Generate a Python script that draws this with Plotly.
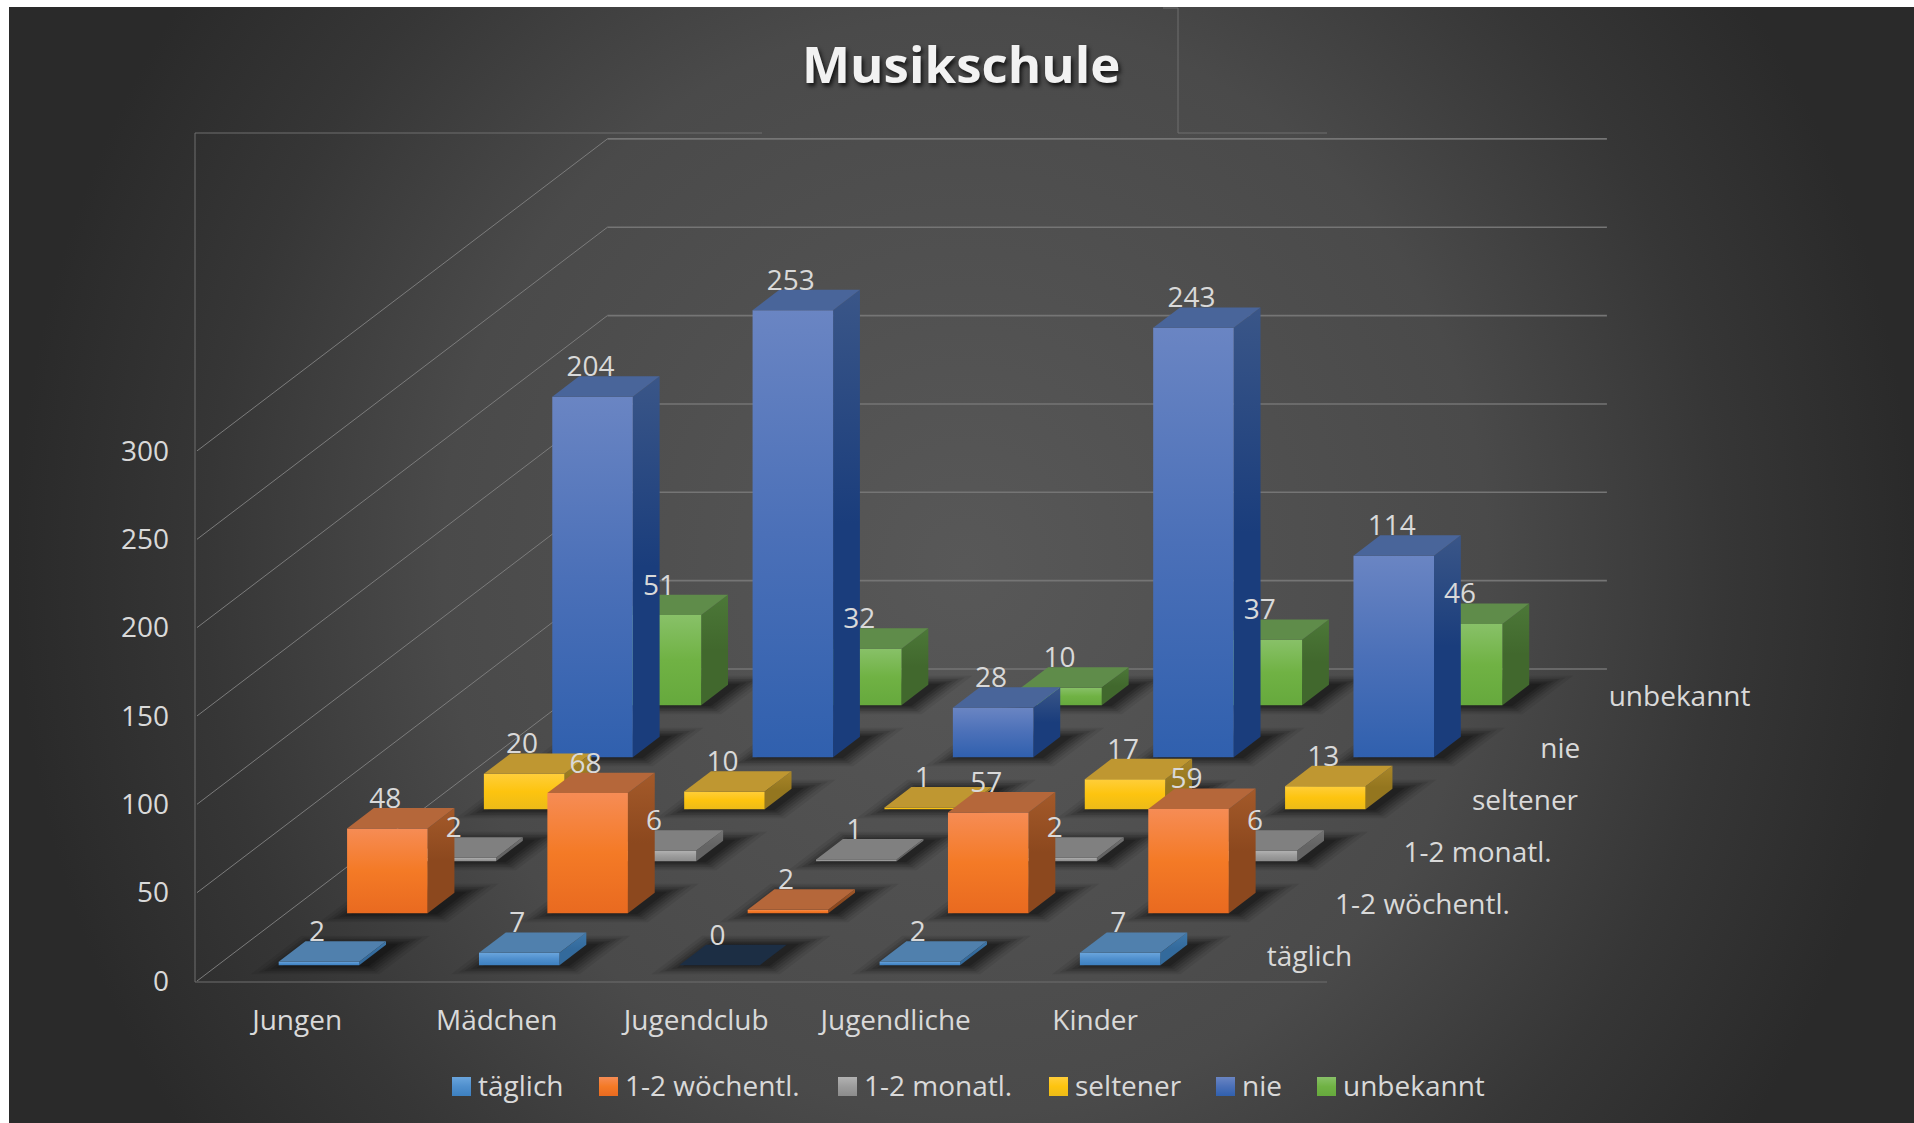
import base64
import plotly.graph_objects as go

# ---- data ----
categories = ["Jungen", "Mädchen", "Jugendclub", "Jugendliche", "Kinder"]
series_names = ["täglich", "1-2 wöchentl.", "1-2 monatl.", "seltener", "nie", "unbekannt"]
taeglich = [2, 7, 0, 2, 7]
woechentl = [48, 68, 2, 57, 59]
monatl = [2, 6, 1, 2, 6]
seltener = [20, 10, 1, 17, 13]
nie = [204, 253, 28, 243, 114]
unbekannt = [51, 32, 10, 37, 46]
series_values = [taeglich, woechentl, monatl, seltener, nie, unbekannt]
value_ticks = [0, 50, 100, 150, 200, 250, 300]
chart_title = "Musikschule"

# colours per series: front (bottom, mid, top), top face, side (bottom, top)
styles = [
    dict(front=("#3d80c0", "#4f8fcd", "#6aa5dd"), top="#5080ad", side=("#336a9c", "#4079ab")),
    dict(front=("#e96a20", "#f47a26", "#f68c55"), top="#b5673a", side=("#8c481e", "#a45a2a")),
    dict(front=("#8c8c8c", "#9c9c9c", "#b2b2b2"), top="#808080", side=("#646464", "#737373")),
    dict(front=("#ecbb18", "#fdc40f", "#ffce3a"), top="#bf9731", side=("#94761f", "#a98629")),
    dict(front=("#3060ae", "#4b70b8", "#6a85c3"), top="#49659a", side=("#1a3d7c", "#3a5688")),
    dict(front=("#66a93d", "#70b244", "#88c168"), top="#5f8c4a", side=("#41682d", "#4c7838")),
]
ZERO_TOP = "#1c2e44"

# ---- layout of the oblique projection (page pixels) ----
W, H = 1914, 1123
PLOT_L, AXIS_B = 190, 986
ORIG_X, ORIG_Y = 198.0, 981.0
PX_PER_COL, PX_PER_VAL = 200.3, 1.767
ROW_DX, ROW_DY = 68.4, 52.0
KX, KY = ROW_DX / PX_PER_COL, ROW_DY / PX_PER_VAL
BAR_W, BAR_D = 0.402, 0.392
TEXT = "#d9d9d9"
FONT = "Open Sans"
FS = 28


def proj(u, r, v):
    """model (category, row, value) -> axis coordinates"""
    return u + r * KX, v + r * KY


def from_px(px, py):
    return (px - ORIG_X) / PX_PER_COL, (ORIG_Y - py) / PX_PER_VAL


def poly(points, **kw):
    xs = [p[0] for p in points] + [points[0][0]]
    ys = [p[1] for p in points] + [points[0][1]]
    return go.Scatter(x=xs, y=ys, mode="lines", line=dict(width=0), fill="toself",
                      hoverinfo="skip", showlegend=False, **kw)


def vgrad(bottom, mid, top):
    return dict(type="vertical", colorscale=[[0, bottom], [0.5, mid], [1, top]])


def line(points, color, width):
    return go.Scatter(x=[p[0] for p in points], y=[p[1] for p in points], mode="lines",
                      line=dict(color=color, width=width), hoverinfo="skip", showlegend=False)


def text_trace(xs, ys, labels, pos="middle center", size=FS, color=TEXT):
    return go.Scatter(x=xs, y=ys, mode="text", text=labels, textposition=pos,
                      textfont=dict(family=FONT, size=size, color=color),
                      hoverinfo="skip", showlegend=False, cliponaxis=False)


fig = go.Figure()
n_cols, n_rows = len(categories), len(series_names)

# frame of the front plane
FRAME = "#6e6e6e"
fig.add_trace(line([from_px(762, 133), from_px(195, 133), from_px(195, 982), from_px(1327, 982)], FRAME, 1))
fig.add_trace(line([from_px(1163, 8), from_px(1178, 8), from_px(1178, 133), from_px(1327, 133)], FRAME, 1))

# walls: gridlines on the left wall and on the back wall
WALL_L = -1 / PX_PER_COL
WALL_R = n_cols - 3 / PX_PER_COL
for t in value_ticks:
    fig.add_trace(line([proj(WALL_L, 0, t), proj(WALL_L, n_rows, t)], "#7c7c7c", 1))
    fig.add_trace(line([proj(WALL_L, n_rows, t), proj(WALL_R, n_rows, t)], "#757575", 1.6))

# soft floor shadows, stacked layers
for grow_px, alpha in [(24, .07), (19, .09), (15, .11), (11, .13), (7, .15), (3, .17)]:
    xs, ys = [], []
    du, dr = grow_px / PX_PER_COL, grow_px * 0.38 / ROW_DY
    shift = (8 / PX_PER_COL)
    for r in range(n_rows):
        for c in range(n_cols):
            u0 = c + .5 - BAR_W / 2 - du + shift
            u1 = c + .5 + BAR_W / 2 + du + shift
            r0 = r + .5 - BAR_D / 2 - dr
            r1 = r + .5 + BAR_D / 2 + dr
            for p in [proj(u0, r0, 0), proj(u1, r0, 0), proj(u1, r1, 0), proj(u0, r1, 0), proj(u0, r0, 0)]:
                xs.append(p[0])
                ys.append(p[1])
            xs.append(None)
            ys.append(None)
    fig.add_trace(go.Scatter(x=xs, y=ys, mode="lines", line=dict(width=0), fill="toself",
                             fillcolor=f"rgba(0,0,0,{alpha})", hoverinfo="skip", showlegend=False))

# bars, painted from the back row to the front row
for r in range(n_rows - 1, -1, -1):
    st = styles[r]
    for c in range(n_cols):
        v = series_values[r][c]
        u0, u1 = c + .5 - BAR_W / 2, c + .5 + BAR_W / 2
        r0, r1 = r + .5 - BAR_D / 2, r + .5 + BAR_D / 2
        if v > 0:
            fig.add_trace(poly([proj(u1, r0, 0), proj(u1, r1, 0), proj(u1, r1, v), proj(u1, r0, v)],
                               fillgradient=vgrad(st["side"][0], st["side"][0], st["side"][1])))
            fig.add_trace(poly([proj(u0, r0, 0), proj(u1, r0, 0), proj(u1, r0, v), proj(u0, r0, v)],
                               fillgradient=vgrad(*st["front"])))
        fig.add_trace(poly([proj(u0, r0, v), proj(u1, r0, v), proj(u1, r1, v), proj(u0, r1, v)],
                           fillcolor=st["top"] if v > 0 else ZERO_TOP))

# data labels: above the back edge of each bar's top
lx, ly, lt = [], [], []
for r in range(n_rows):
    for c in range(n_cols):
        v = series_values[r][c]
        x, _ = proj(c + .5 - 2 / PX_PER_COL, r + .5 - BAR_D / 2, v)
        _, y = proj(c + .5, r + .5 + BAR_D / 2, v + 4)
        lx.append(x)
        ly.append(y)
        lt.append(str(v))
fig.add_trace(text_trace(lx, ly, lt))

# row (series) axis labels
rpts = [proj(n_cols + 33 / PX_PER_COL, r + .5, -2) for r in range(n_rows)]
fig.add_trace(text_trace([p[0] for p in rpts], [p[1] for p in rpts], series_names, pos="middle right"))

# legend
swatch_left = [452, 599, 838, 1049, 1216, 1317]
for i, name in enumerate(series_names):
    x0 = swatch_left[i]
    st = styles[i]
    fig.add_trace(poly([from_px(x0, 1096), from_px(x0 + 19, 1096), from_px(x0 + 19, 1077), from_px(x0, 1077)],
                       fillgradient=vgrad(*st["front"])))
    p = from_px(x0 + 26, 1089)
    fig.add_trace(text_trace([p[0]], [p[1]], [name], pos="middle right"))

# background
svg = (f'<svg xmlns="http://www.w3.org/2000/svg" width="{W}" height="{H}" viewBox="0 0 {W} {H}">'
       '<defs><radialGradient id="g" gradientUnits="userSpaceOnUse" cx="0" cy="0" r="1" '
       'gradientTransform="translate(965 565) scale(950 1000)">'
       '<stop offset="0" stop-color="#585858"/><stop offset="0.55" stop-color="#4a4a4a"/>'
       '<stop offset="0.8" stop-color="#363636"/><stop offset="1" stop-color="#2a2a2a"/>'
       '</radialGradient></defs>'
       f'<rect x="9" y="7" width="{W}" height="{H}" fill="url(#g)"/></svg>')
src = "data:image/svg+xml;base64," + base64.b64encode(svg.encode()).decode()

x_range = [from_px(PLOT_L, 0)[0], from_px(W, 0)[0]]
y_range = [from_px(0, H)[1], from_px(0, 0)[1]]

fig.update_layout(
    width=W, height=H, margin=dict(l=PLOT_L, r=0, t=0, b=0, autoexpand=False),
    paper_bgcolor="white", plot_bgcolor="rgba(0,0,0,0)", showlegend=False,
    images=[dict(source=src, xref="paper", yref="paper", x=-PLOT_L / (W - PLOT_L), y=1,
                 sizex=W / (W - PLOT_L), sizey=1, xanchor="left", yanchor="top",
                 sizing="stretch", layer="below")],
    xaxis=dict(range=x_range, showgrid=False, zeroline=False, showline=False, ticks="",
               anchor="free", position=(H - AXIS_B) / H,
               tickmode="array", tickvals=[i * 0.996 + 0.495 for i in range(n_cols)], ticktext=categories,
               tickfont=dict(family=FONT, size=FS, color=TEXT), ticklabelstandoff=15, fixedrange=True),
    yaxis=dict(range=y_range, showgrid=False, zeroline=False, showline=False, ticks="",
               tickmode="array", tickvals=value_ticks, tickfont=dict(family=FONT, size=FS, color=TEXT),
               ticklabelstandoff=20, fixedrange=True),
    annotations=[dict(text=chart_title, xref="paper", yref="paper", x=(961 - PLOT_L) / (W - PLOT_L),
                      y=1 - 63 / H, xanchor="center", yanchor="middle", showarrow=False,
                      font=dict(family="Open Sans", size=51, weight="bold", color="#f2f2f2",
                                shadow="2px 3px 4px #111"))],
)

fig.write_html("out.html", config=dict(displayModeBar=False),
               post_script="document.body.style.margin='0';document.documentElement.style.overflow='hidden';")
